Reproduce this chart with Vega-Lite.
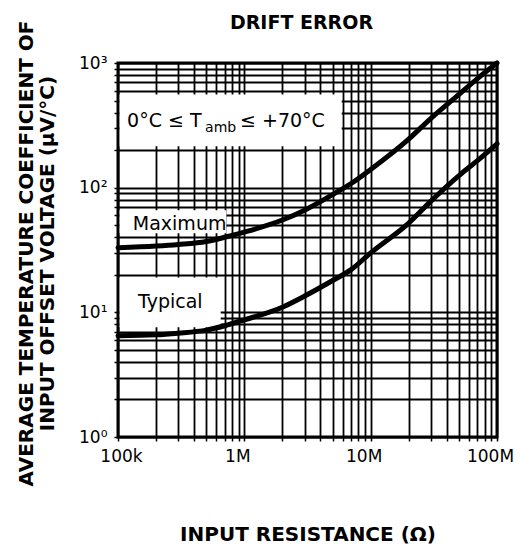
{
  "$schema": "https://vega.github.io/schema/vega-lite/v6.json",
  "autosize": {"type": "none"},
  "width": 379,
  "height": 374,
  "padding": {"left": 118, "top": 63, "right": 24, "bottom": 110},
  "background": "white",
  "config": {
    "view": {"stroke": "black", "strokeWidth": 3},
    "font": "DejaVu Sans"
  },
  "title": {
    "text": "DRIFT ERROR",
    "font": "DejaVu Sans",
    "fontSize": 19,
    "fontWeight": "bold",
    "color": "black",
    "anchor": "middle",
    "frame": "group",
    "baseline": "alphabetic",
    "offset": -28,
    "dx": -6
  },
  "datasets": {
    "curves": [
      {"series": "Maximum", "r": 1e5, "v": 33},
      {"series": "Maximum", "r": 2e5, "v": 34},
      {"series": "Maximum", "r": 3e5, "v": 35},
      {"series": "Maximum", "r": 5e5, "v": 37},
      {"series": "Maximum", "r": 7e5, "v": 40},
      {"series": "Maximum", "r": 1e6, "v": 44},
      {"series": "Maximum", "r": 2e6, "v": 55},
      {"series": "Maximum", "r": 3e6, "v": 66},
      {"series": "Maximum", "r": 5e6, "v": 88},
      {"series": "Maximum", "r": 7e6, "v": 108},
      {"series": "Maximum", "r": 1e7, "v": 140},
      {"series": "Maximum", "r": 2e7, "v": 245},
      {"series": "Maximum", "r": 3e7, "v": 360},
      {"series": "Maximum", "r": 5e7, "v": 560},
      {"series": "Maximum", "r": 7e7, "v": 750},
      {"series": "Maximum", "r": 1e8, "v": 1000},
      {"series": "Typical", "r": 1e5, "v": 6.5},
      {"series": "Typical", "r": 2e5, "v": 6.6},
      {"series": "Typical", "r": 3e5, "v": 6.8},
      {"series": "Typical", "r": 5e5, "v": 7.2},
      {"series": "Typical", "r": 7e5, "v": 7.8},
      {"series": "Typical", "r": 1e6, "v": 8.7},
      {"series": "Typical", "r": 2e6, "v": 11},
      {"series": "Typical", "r": 3e6, "v": 13.5},
      {"series": "Typical", "r": 5e6, "v": 18},
      {"series": "Typical", "r": 7e6, "v": 22},
      {"series": "Typical", "r": 1e7, "v": 30},
      {"series": "Typical", "r": 2e7, "v": 52},
      {"series": "Typical", "r": 3e7, "v": 78},
      {"series": "Typical", "r": 5e7, "v": 125},
      {"series": "Typical", "r": 7e7, "v": 165},
      {"series": "Typical", "r": 1e8, "v": 225}
    ],
    "boxes": [
      {"name": "temp", "x1": 1.03e5, "x2": 5.9e6, "y1": 215, "y2": 560},
      {"name": "max", "x1": 1.03e5, "x2": 7.2e5, "y1": 43, "y2": 66},
      {"name": "typ", "x1": 1.03e5, "x2": 6.5e5, "y1": 7.6, "y2": 19}
    ],
    "mainlabels": [
      {"label": "Maximum", "x": 1.31e5, "y": 45.8},
      {"label": "Typical", "x": 1.44e5, "y": 10.8},
      {"label": "0°C ≤ T", "x": 1.18e5, "y": 307},
      {"label": "≤ +70°C", "x": 9.25e5, "y": 307}
    ],
    "sublabels": [
      {"label": "amb", "x": 4.89e5, "y": 280}
    ]
  },
  "layer": [
    {
      "data": {"name": "boxes"},
      "mark": {"type": "rect", "fill": "white", "stroke": null},
      "encoding": {
        "x": {
          "field": "x1", "type": "quantitative",
          "scale": {"type": "log", "domain": [1e5, 1e8], "nice": false},
          "axis": {
            "values": [1e5, 2e5, 3e5, 4e5, 5e5, 6e5, 7e5, 8e5, 9e5, 1e6, 2e6, 3e6, 4e6, 5e6, 6e6, 7e6, 8e6, 9e6, 1e7, 2e7, 3e7, 4e7, 5e7, 6e7, 7e7, 8e7, 9e7, 1e8],
            "labelExpr": "datum.value == 1e5 ? '100k' : datum.value == 1e6 ? '1M' : datum.value == 1e7 ? '10M' : datum.value == 1e8 ? '100M' : ''",
            "labelOverlap": false,
            "labelFont": "DejaVu Sans",
            "labelFontSize": 17,
            "labelColor": "black",
            "labelPadding": 7,
            "labelOffset": {"condition": {"test": "datum.value == 1e5", "value": 3}, "value": -7},
            "labelFlush": false,
            "domain": false,
            "grid": true,
            "gridColor": "black",
            "gridWidth": 1.8,
            "gridOpacity": 1,
            "ticks": true,
            "tickSize": 4,
            "tickColor": "black",
            "tickWidth": 1.5,
            "title": "INPUT RESISTANCE (Ω)",
            "titleFont": "DejaVu Sans",
            "titleFontSize": 20,
            "titleFontWeight": "bold",
            "titleColor": "black",
            "titleBaseline": "alphabetic",
            "titleY": 103
          }
        },
        "x2": {"field": "x2"},
        "y": {
          "field": "y1", "type": "quantitative",
          "scale": {"type": "log", "domain": [1, 1000], "nice": false},
          "axis": {
            "values": [1, 2, 3, 4, 5, 6, 7, 8, 9, 10, 20, 30, 40, 50, 60, 70, 80, 90, 100, 200, 300, 400, 500, 600, 700, 800, 900, 1000],
            "labelExpr": "datum.value == 1 ? '10⁰' : datum.value == 10 ? '10¹' : datum.value == 100 ? '10²' : datum.value == 1000 ? '10³' : ''",
            "labelOverlap": false,
            "labelFont": "DejaVu Sans",
            "labelFontSize": 17,
            "labelColor": "black",
            "labelPadding": 7,
            "labelFlush": false,
            "labelBaseline": "middle",
            "labelOffset": 0,
            "domain": false,
            "grid": true,
            "gridColor": "black",
            "gridWidth": 1.8,
            "gridOpacity": 1,
            "ticks": true,
            "tickSize": 4,
            "tickColor": "black",
            "tickWidth": 1.5,
            "title": ["AVERAGE TEMPERATURE COEFFICIENT OF", "INPUT OFFSET VOLTAGE (μV/°C)"],
            "titleFont": "DejaVu Sans",
            "titleFontSize": 20,
            "titleFontWeight": "bold",
            "titleColor": "black",
            "titleLineHeight": 21,
            "titleBaseline": "alphabetic",
            "titleAngle": -90,
            "titleAlign": "center",
            "titleX": -86,
            "titleY": 190
          }
        },
        "y2": {"field": "y2"}
      }
    },
    {
      "data": {"name": "curves"},
      "mark": {"type": "line", "color": "black", "strokeWidth": 5, "interpolate": "monotone", "strokeCap": "round"},
      "encoding": {
        "x": {"field": "r", "type": "quantitative"},
        "y": {"field": "v", "type": "quantitative"},
        "detail": {"field": "series"}
      }
    },
    {
      "data": {"name": "mainlabels"},
      "mark": {"type": "text", "align": "left", "baseline": "alphabetic", "font": "DejaVu Sans", "fontSize": 19, "color": "black"},
      "encoding": {
        "x": {"field": "x", "type": "quantitative"},
        "y": {"field": "y", "type": "quantitative"},
        "text": {"field": "label"}
      }
    },
    {
      "data": {"name": "sublabels"},
      "mark": {"type": "text", "align": "left", "baseline": "alphabetic", "font": "DejaVu Sans", "fontSize": 14, "color": "black"},
      "encoding": {
        "x": {"field": "x", "type": "quantitative"},
        "y": {"field": "y", "type": "quantitative"},
        "text": {"field": "label"}
      }
    }
  ]
}
